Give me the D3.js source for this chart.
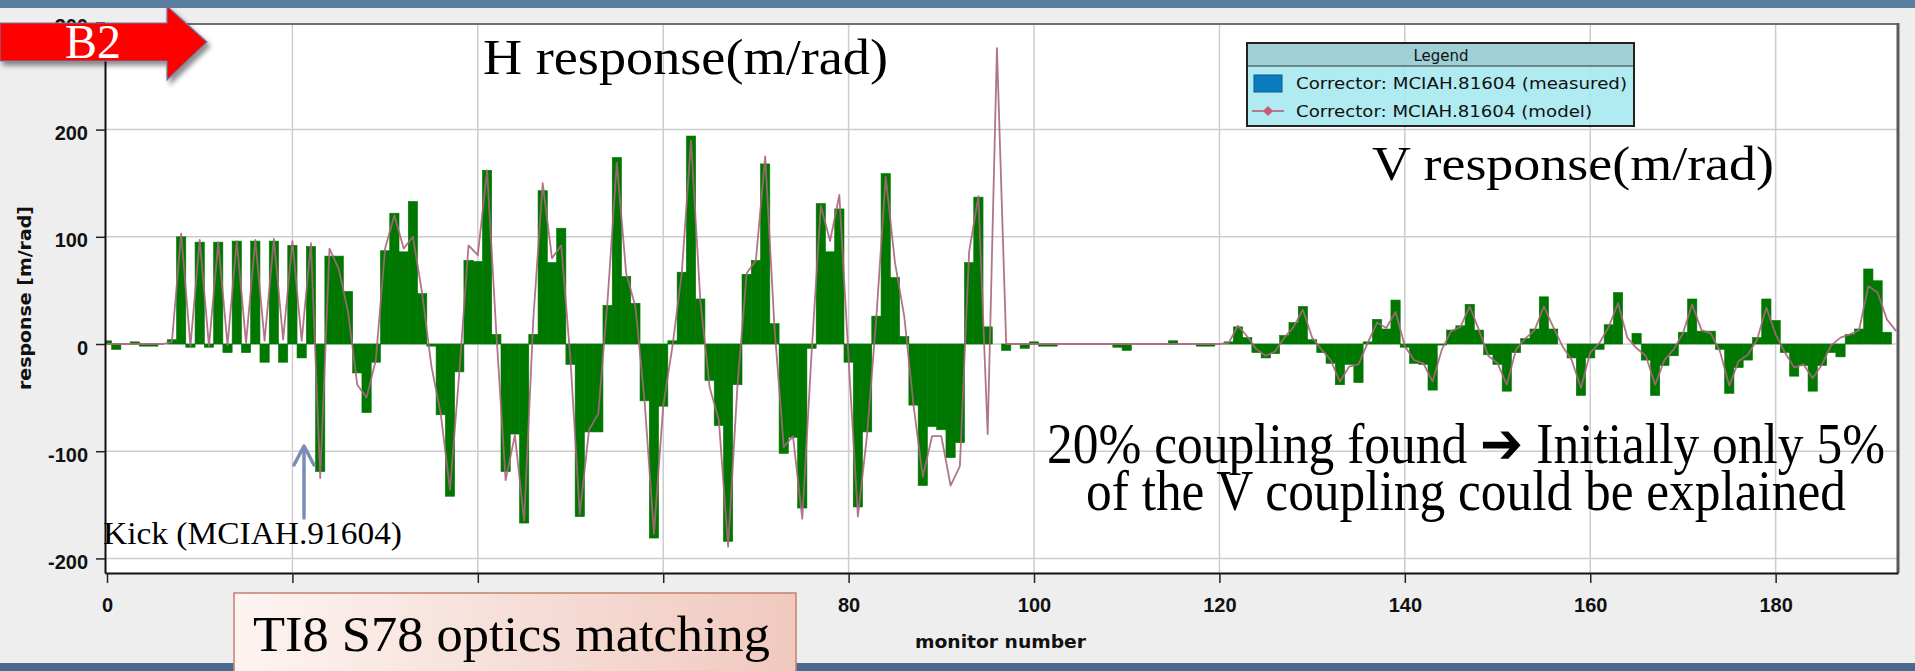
<!DOCTYPE html>
<html>
<head>
<meta charset="utf-8">
<script src="https://cdn.jsdelivr.net/npm/d3@7"></script>
<style>
  html, body { margin: 0; padding: 0; background: #eeeeee; overflow: hidden; }
  svg { display: block; }
</style>
</head>
<body>
<svg id="chart" width="1915" height="671"></svg>
<script>
// Orbit response to a kick from corrector MCIAH.81604, per beam position monitor [m/rad]
const measured = [
  3, -5, 0, 2, -2, -2, 0, 4, 100, -3,
  95, -3, 95, -8, 96, -8, 96, -17, 96, -17,
  92, -13, 91, -119, 82, 82, 49, -27, -64, -17,
  87, 122, 86, 133, 47, -2, -66, -142, -26, 78,
  77, 162, 9, -119, -84, -167, 9, 143, 76, 108,
  -19, -161, -82, -82, 36, 174, 63, 38, -53, -181,
  -58, 3, 67, 194, 42, -34, -76, -184, -38, 65,
  78, 168, 19, -102, -87, -153, -4, 131, 86, 126,
  -17, -152, -82, 26, 159, 62, 7, -57, -132, -77,
  -80, -106, -92, 76, 137, 16, 0, -6, 0, -4,
  2, -2, -2, 0, 0, 0, 0, 0, 0, -3,
  -6, 0, 0, 0, 0, 3, 0, 0, -2, -2,
  0, 2, 16, 6, -8, -13, -9, 8, 20, 35,
  4, -8, -18, -38, -19, -36, 2, 23, 14, 41,
  -3, -18, -19, -43, -1, 13, 17, 37, 13, -10,
  -19, -44, -8, 5, 14, 44, 14, 0, -13, -48,
  -13, -5, 18, 48, 0, 10, -15, -48, -20, -11,
  11, 42, 12, 12, -5, -46, -22, -15, 6, 42,
  22, -8, -30, -20, -44, -20, -8, -12, 9, 14,
  70, 59, 11
];

const model = [
  0, 0, 0, 0, 0, 0, 0, 2, 103, -2,
  97, -2, 95, -1, 96, 1, 97, 3, 98, 4,
  96, 3, 94, -125, 89, 70, 30, -38, -50, -15,
  89, 120, 89, 100, 47, -21, -65, -136, -27, 92,
  83, 162, 10, -127, -85, -165, 25, 150, 80, 92,
  -15, -159, -80, -65, 41, 169, 66, 35, -54, -177,
  -58, -2, 66, 190, 41, -40, -71, -189, -40, 66,
  78, 175, 16, -96, -86, -163, -9, 129, 96, 139,
  -14, -161, -84, 26, 156, 76, 26, -57, -124, -86,
  -86, -132, -114, 86, 138, -84, 276, 0, 0, 0,
  0, 0, 0, 0, 0, 0, 0, 0, 0, 0,
  0, 0, 0, 0, 0, 0, 0, 0, 0, 0,
  0, 1, 17, 7, -5, -11, -7, 6, 16, 32,
  6, -5, -15, -35, -21, -19, 1, 20, 15, 30,
  -2, -15, -18, -35, -5, 12, 16, 35, 13, -11,
  -18, -38, -5, 5, 13, 35, 16, -2, -15, -41,
  -8, 1, 16, 38, 6, -4, -11, -38, -15, -5,
  10, 37, 13, 10, -7, -39, -16, -10, 4, 34,
  9, -8, -22, -19, -32, -19, -1, 6, 9, 13,
  54, 48, 23, 12
];

const xTickValues = [0, 20, 40, 60, 80, 100, 120, 140, 160, 180];
const yTickValues = [-200, -100, 0, 100, 200, 300];
const legendLabels = ["Corrector: MCIAH.81604 (measured)", "Corrector: MCIAH.81604 (model)"];

const W = 1915, H = 671;
const plot = { left: 105, right: 1898, top: 24, bottom: 573 };

const svg = d3.select("#chart");
const defs = svg.append("defs");

defs.append("clipPath").attr("id", "plotClip")
  .append("rect")
  .attr("x", plot.left).attr("y", plot.top)
  .attr("width", plot.right - plot.left).attr("height", plot.bottom - plot.top);

const grad = defs.append("linearGradient").attr("id", "boxFill")
  .attr("x1", "0%").attr("x2", "100%").attr("y1", "0%").attr("y2", "0%");
grad.append("stop").attr("offset", "0%").attr("stop-color", "#fdf4f2");
grad.append("stop").attr("offset", "100%").attr("stop-color", "#f0c9be");

const shadow = defs.append("filter").attr("id", "shadow")
  .attr("x", "-20%").attr("y", "-30%").attr("width", "150%").attr("height", "170%");
shadow.append("feDropShadow").attr("dx", 3).attr("dy", 4).attr("stdDeviation", 2.5)
  .attr("flood-color", "#000").attr("flood-opacity", 0.45);

// page frame
svg.append("rect").attr("x", 0).attr("y", 0).attr("width", W).attr("height", H).attr("fill", "#eeeeee");
svg.append("rect").attr("x", 0).attr("y", 0).attr("width", W).attr("height", 8).attr("fill", "#5b7fa1");
svg.append("rect").attr("x", 0).attr("y", 663).attr("width", W).attr("height", 8).attr("fill", "#4a6b8e");

// scales
const x = d3.scaleLinear().domain([-0.216, 193.2]).range([plot.left, plot.right]);
const y = d3.scaleLinear().domain([-213.6, 298.5]).range([plot.bottom, plot.top]);

// plot background
svg.append("rect")
  .attr("x", plot.left).attr("y", plot.top)
  .attr("width", plot.right - plot.left).attr("height", plot.bottom - plot.top)
  .attr("fill", "#ffffff");

// grid
const grid = svg.append("g").attr("stroke", "#cdcdcd").attr("stroke-width", 1.5);
grid.selectAll("line.h").data(yTickValues.filter(v => v !== 300)).join("line")
  .attr("x1", plot.left).attr("x2", plot.right)
  .attr("y1", d => y(d)).attr("y2", d => y(d));
grid.selectAll("line.v").data(xTickValues.filter(v => v !== 0)).join("line")
  .attr("y1", plot.top).attr("y2", plot.bottom)
  .attr("x1", d => x(d)).attr("x2", d => x(d));

// measured response bars
const plotArea = svg.append("g").attr("clip-path", "url(#plotClip)");
plotArea.append("g").selectAll("rect").data(measured).join("rect")
  .attr("x", (d, i) => x(i - 0.5))
  .attr("width", (d, i) => x(i + 0.5) - x(i - 0.5))
  .attr("y", d => y(Math.max(0, d)))
  .attr("height", d => Math.abs(y(d) - y(0)))
  .attr("fill", "#007700")
  .attr("stroke", "#007700")
  .attr("stroke-width", 0.6);

// model response line
const line = d3.line().x((d, i) => x(i)).y(d => y(d));
plotArea.append("path").datum(model)
  .attr("d", line)
  .attr("fill", "none")
  .attr("stroke", "#a8667c")
  .attr("stroke-width", 1.8)
  .attr("stroke-opacity", 0.9)
  .attr("stroke-linejoin", "round");

// frame lines
svg.append("line").attr("x1", plot.left).attr("x2", plot.right).attr("y1", plot.top).attr("y2", plot.top)
  .attr("stroke", "#707070").attr("stroke-width", 2);
svg.append("line").attr("x1", plot.right).attr("x2", plot.right).attr("y1", plot.top - 1).attr("y2", plot.bottom)
  .attr("stroke", "#5a5a5a").attr("stroke-width", 3);

// axes
const tickFont = "'Liberation Sans', Arial, sans-serif";
const plainNumber = d => String(d);
const yAxis = svg.append("g").attr("transform", `translate(${plot.left},0)`)
  .call(d3.axisLeft(y).tickValues(yTickValues).tickFormat(plainNumber).tickSize(9).tickSizeOuter(0).tickPadding(8));
yAxis.selectAll("text").attr("dy", "0.5em")
  .style("font-family", tickFont).style("font-weight", "bold").style("font-size", "20px").attr("fill", "#111");
yAxis.selectAll("line").attr("stroke", "#222").attr("stroke-width", 1.5);
yAxis.select(".domain").attr("stroke", "#111").attr("stroke-width", 2);

const xAxis = svg.append("g").attr("transform", `translate(0,${plot.bottom})`)
  .call(d3.axisBottom(x).tickValues(xTickValues).tickFormat(plainNumber).tickSize(10).tickSizeOuter(0).tickPadding(15));
xAxis.selectAll("text")
  .style("font-family", tickFont).style("font-weight", "bold").style("font-size", "20px").attr("fill", "#111");
xAxis.selectAll("line").attr("stroke", "#222").attr("stroke-width", 1.5);
xAxis.select(".domain").attr("stroke", "#111").attr("stroke-width", 2);

const titleFont = "'DejaVu Sans', Verdana, sans-serif";
svg.append("text")
  .attr("transform", "translate(31,298) rotate(-90)")
  .attr("text-anchor", "middle")
  .attr("textLength", 184).attr("lengthAdjust", "spacingAndGlyphs")
  .style("font-family", titleFont).style("font-weight", "bold").style("font-size", "17px")
  .attr("fill", "#111")
  .text("response [m/rad]");
svg.append("text")
  .attr("x", 915).attr("y", 648)
  .attr("textLength", 171).attr("lengthAdjust", "spacingAndGlyphs")
  .style("font-family", titleFont).style("font-weight", "bold").style("font-size", "17px")
  .attr("fill", "#111")
  .text("monitor number");

// legend
const legend = svg.append("g");
legend.append("rect").attr("x", 1247).attr("y", 43).attr("width", 387).attr("height", 83)
  .attr("fill", "#a4e8ee").attr("fill-opacity", 0.88);
legend.append("rect").attr("x", 1247).attr("y", 43).attr("width", 387).attr("height", 23)
  .attr("fill", "#9ccdd1").attr("fill-opacity", 0.9);
legend.append("line").attr("x1", 1247).attr("x2", 1634).attr("y1", 66).attr("y2", 66)
  .attr("stroke", "#333").attr("stroke-width", 1.2);
legend.append("rect").attr("x", 1247).attr("y", 43).attr("width", 387).attr("height", 83)
  .attr("fill", "none").attr("stroke", "#222").attr("stroke-width", 2);
const legFont = "'DejaVu Sans', Verdana, sans-serif";
legend.append("text").attr("x", 1441).attr("y", 61).attr("text-anchor", "middle")
  .style("font-family", legFont).style("font-size", "15px").attr("fill", "#111").text("Legend");
legend.append("rect").attr("x", 1254).attr("y", 75).attr("width", 28).attr("height", 17)
  .attr("fill", "#0a7bbf").attr("stroke", "#0b5a8e").attr("stroke-width", 1);
legend.append("line").attr("x1", 1252).attr("x2", 1284).attr("y1", 111).attr("y2", 111)
  .attr("stroke", "#c9587a").attr("stroke-width", 1.6);
legend.append("path").attr("d", "M1268,106 L1273,111 L1268,116 L1263,111 Z").attr("fill", "#c9587a");
legend.selectAll("text.item").data(legendLabels).join("text")
  .attr("class", "item")
  .attr("x", 1296).attr("y", (d, i) => 89 + i * 28)
  .attr("textLength", (d, i) => i === 0 ? 331 : 296).attr("lengthAdjust", "spacingAndGlyphs")
  .style("font-family", legFont).style("font-size", "15px").attr("fill", "#111")
  .text(d => d);

// annotations
const serif = "'Liberation Serif', 'Times New Roman', serif";
function note(txt, x0, base, size, len) {
  svg.append("text").attr("x", x0).attr("y", base)
    .attr("textLength", len).attr("lengthAdjust", "spacingAndGlyphs")
    .style("font-family", serif).style("font-size", size + "px").attr("fill", "#000")
    .text(txt);
}
note("H response(m/rad)", 483, 74, 50, 405);
note("V response(m/rad)", 1372, 180, 49, 402);
note("20% coupling found \u2794 Initially only 5%", 1047, 463, 57, 838);
note("of the V coupling could be explained", 1086, 510, 56, 760);
note("Kick (MCIAH.91604)", 103, 544, 31, 299);

// kick marker arrow
const kick = svg.append("g").attr("stroke", "#7b8cb6").attr("stroke-width", 3.5).attr("fill", "none")
  .attr("stroke-linecap", "round").attr("stroke-linejoin", "round");
kick.append("line").attr("x1", 304).attr("x2", 304).attr("y1", 518).attr("y2", 447);
kick.append("path").attr("d", "M294,465 L304,446 L314,465");

// beam tag
svg.append("path")
  .attr("d", "M0,23 L167,23 L167,6 L207,42 L167,80 L167,61 L0,61 Z")
  .attr("fill", "#ff0000").attr("stroke", "#6b7ba6").attr("stroke-width", 1.2)
  .attr("filter", "url(#shadow)");
svg.append("text").attr("x", 93).attr("y", 58).attr("text-anchor", "middle")
  .style("font-family", serif).style("font-size", "48px").attr("fill", "#ffffff")
  .text("B2");

// section label box
svg.append("rect").attr("x", 234).attr("y", 593).attr("width", 562).attr("height", 100)
  .attr("fill", "url(#boxFill)").attr("stroke", "#c4816e").attr("stroke-width", 1.5);
note("TI8 S78 optics matching", 253, 651, 50, 517);
</script>
</body>
</html>
